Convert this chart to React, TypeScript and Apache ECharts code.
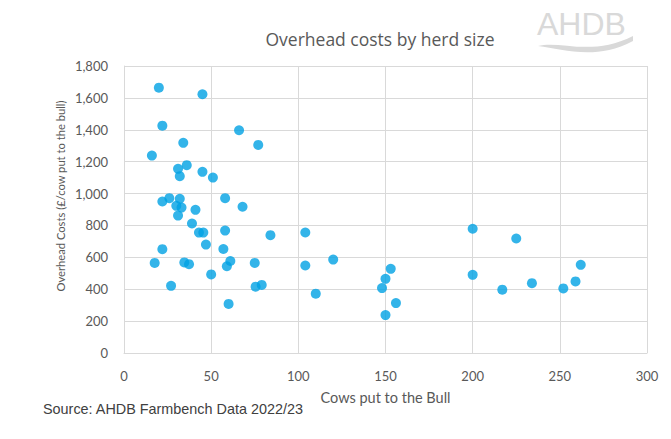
import React, { useEffect, useRef } from "react";
import * as echarts from "echarts";

const titleText = "Overhead costs by herd size";
const xAxisTitle = "Cows put to the Bull";
const yAxisTitle = "Overhead Costs (£/cow put to the bull)";
const sourceText = "Source: AHDB Farmbench Data 2022/23";

const cowsPutToBull: number[] = [
  20, 45, 22, 66, 34, 77, 16, 36, 31, 45, 32, 51,
  26, 22, 32, 58, 30, 33, 68, 41, 31, 39, 43, 45.5, 58, 84,
  47, 22, 57, 17.6, 34.6, 37.3, 61, 59, 75, 50, 27, 75.5, 79, 60,
  104, 200, 225, 120, 104, 262, 153, 200, 150, 259, 234, 148, 217, 252, 110, 156, 150,
];
const overheadCosts: number[] = [
  1664, 1623, 1426, 1397, 1318, 1305, 1238, 1178, 1155, 1136, 1109, 1100,
  971, 950, 967, 971, 923, 912, 917, 898, 862, 812, 755, 755, 768, 739,
  680, 651, 652, 565, 568, 557, 577, 544, 565, 493, 421, 416, 427, 308,
  756, 779, 718, 586, 549, 553, 528, 490, 465, 449, 438, 407, 397, 405, 372, 313, 238,
];

const xMin = 0, xMax = 300, xInterval = 50;
const yMin = 0, yMax = 1800, yInterval = 200;

echarts.graphic.registerShape(
  "ahdbWave",
  echarts.graphic.extendPath(
    "M538 46 C 560 40, 592 57, 633 36 L 633 41 C 595 61, 563 49, 538 46 Z",
    {}
  )
);

export default function App() {
  const ref = useRef<HTMLDivElement>(null);
  useEffect(() => {
    document.body.style.margin = "0";
    if (!ref.current) return;
    const chart = echarts.init(ref.current, undefined, { renderer: "svg" });
    const data = cowsPutToBull.map((x, i) => [x, overheadCosts[i]]);
    const tickFont = "Lato, 'Open Sans', sans-serif";
    chart.setOption({
      animation: false,
      backgroundColor: "#ffffff",
      title: {
        text: titleText,
        left: 375,
        top: 25,
        textAlign: "center",
        textStyle: { color: "#595959", fontSize: 17.5, fontWeight: "normal", fontFamily: "'Open Sans', sans-serif" },
      },
      grid: { left: 124, right: 24, top: 66, bottom: 86, containLabel: false },
      xAxis: {
        type: "value",
        min: xMin,
        max: xMax,
        interval: xInterval,
        name: xAxisTitle,
        nameLocation: "middle",
        nameGap: 37,
        nameTextStyle: { color: "#595959", fontSize: 14.5, fontFamily: tickFont },
        axisLine: { show: true, lineStyle: { color: "#d9d9d9", width: 1 } },
        axisTick: { show: false },
        axisLabel: { color: "#595959", fontSize: 13, margin: 16, fontFamily: tickFont },
        splitLine: { show: true, lineStyle: { color: "#d9d9d9", width: 1 } },
      },
      yAxis: {
        type: "value",
        min: yMin,
        max: yMax,
        interval: yInterval,
        axisLine: { show: true, lineStyle: { color: "#d9d9d9", width: 1 } },
        axisTick: { show: false },
        axisLabel: {
          color: "#595959",
          fontSize: 13,
          margin: 16,
          fontFamily: tickFont,
          formatter: (v: number) => v.toLocaleString("en-GB"),
        },
        splitLine: { show: true, lineStyle: { color: "#d9d9d9", width: 1 } },
      },
      series: [
        {
          type: "scatter",
          data,
          symbol: "circle",
          symbolSize: 10,
          itemStyle: { color: "#00A1E4" },
        },
      ],
      graphic: [
        {
          type: "text",
          x: 60,
          y: 196,
          rotation: Math.PI / 2,
          style: {
            text: yAxisTitle,
            fill: "#595959",
            fontSize: 11.2,
            fontFamily: tickFont,
            align: "center",
            verticalAlign: "middle",
          },
        },
        {
          type: "text",
          left: 43,
          top: 402,
          style: { text: sourceText, fill: "#404040", fontSize: 14.4, fontFamily: "'Liberation Sans', Arial, sans-serif" },
        },
        {
          type: "text",
          x: 537,
          y: 8,
          style: { text: "AHDB", fill: "#d9d9d9", fontSize: 32, fontFamily: "'Liberation Sans', Arial, sans-serif" },
        },
        {
          type: "ahdbWave",
          x: 0,
          y: 0,
          style: { fill: "#d9d9d9" },
        },
      ],
    });
    return () => chart.dispose();
  }, []);
  return <div ref={ref} style={{ width: 671, height: 439 }} />;
}
